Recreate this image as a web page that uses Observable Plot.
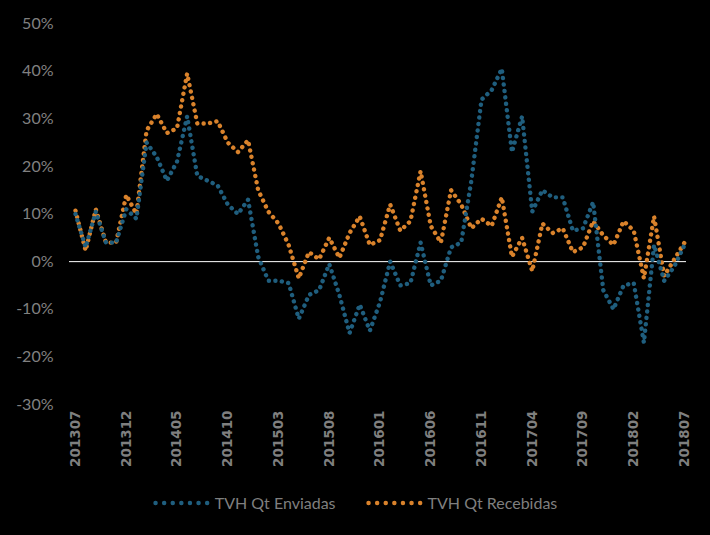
<!DOCTYPE html>
<html>
<head>
<meta charset="utf-8">
<script src="https://cdn.jsdelivr.net/npm/d3@7"></script>
<script src="https://cdn.jsdelivr.net/npm/@observablehq/plot@0.6"></script>
<style>
  html, body { margin: 0; padding: 0; background: #000; }
  #chart { width: 710px; height: 535px; background: #000; position: relative; overflow: hidden; }
  .legend { position: absolute; top: 493px; left: 0; width: 710px; display: flex; justify-content: center; align-items: center; font-family: Lato, "Open Sans", sans-serif; font-size: 16px; color: #7f7f7f; }
  .item { display: flex; align-items: center; margin: 0 15px; }
  .item svg { margin-right: 5px; }
</style>
</head>
<body>
<div id="chart"></div>
<script>
const months = ["201307","201308","201309","201310","201311","201312","201401","201402","201403","201404","201405","201406","201407","201408","201409","201410","201411","201412","201501","201502","201503","201504","201505","201506","201507","201508","201509","201510","201511","201512","201601","201602","201603","201604","201605","201606","201607","201608","201609","201610","201611","201612","201701","201702","201703","201704","201705","201706","201707","201708","201709","201710","201711","201712","201801","201802","201803","201804","201805","201806","201807"];
const enviadas = [10,3,10.5,4,4,11,9,25,22,17,21,30.5,18,17,16,12,10,13,1,-4,-4,-4.5,-12,-7,-6,-0.5,-7,-15,-9,-14.5,-8.5,0,-5,-4.5,4,-5,-4,3,4,17,34,36,40.5,23,30.5,10.5,15,13.5,13.5,6.5,7,12.5,-6,-10,-5,-4.5,-17,3.5,-4,-1,3.5];
const recebidas = [10.7,2.3,11,4,4,14,10,27.5,31,27,28,39.5,29,29,29.5,25,23,25.5,15,10.5,8,3.5,-3.5,2,0.5,5,0.8,6,9.5,3.5,4.5,12,6.5,8.5,19,7.5,4,15,12,7,9,7.5,13.5,1,5,-2,8,6,7,2,3,8.5,5.5,3.5,8.5,6.5,-3.5,9.5,-3,0.5,4];
const seriesNames = ["TVH Qt Enviadas", "TVH Qt Recebidas"];
const seriesColors = ["#1f5e7e", "#d9822b"];
const yTicks = [-30,-20,-10,0,10,20,30,40,50];
const xTickIdx = [0,5,10,15,20,25,30,35,40,45,50,55,60];

const rows = [];
months.forEach((m, i) => {
  rows.push({i, m, v: enviadas[i], s: seriesNames[0]});
});
months.forEach((m, i) => {
  rows.push({i, m, v: recebidas[i], s: seriesNames[1]});
});

const lineOpts = {x: "i", y: "v", stroke: "s", strokeWidth: 4.4, strokeLinecap: "round", strokeDasharray: "0.1 6.4"};

const plot = Plot.plot({
  width: 710,
  height: 480,
  marginTop: 23,
  marginBottom: 76,
  marginLeft: 75,
  marginRight: 26,
  style: {background: "#000", color: "#808080", overflow: "visible"},
  x: {type: "linear", domain: [0, 60]},
  y: {domain: [-30, 50]},
  color: {domain: seriesNames, range: seriesColors},
  marks: [
    Plot.axisY({ticks: yTicks, tickSize: 0, tickPadding: 22, tickFormat: d => d + "%", label: null,
      fontFamily: "Lato, sans-serif", fontSize: 16, fill: "#808080"}),
    Plot.axisX({ticks: xTickIdx, tickSize: 0, tickPadding: 6, tickRotate: -90, tickFormat: i => months[i], label: null,
      fontFamily: "DejaVu Sans, sans-serif", fontSize: 13.5, fontWeight: "bold", fill: "#7f7f7f"}),
    Plot.ruleY([0], {stroke: "#ffffff", strokeWidth: 1, insetLeft: -6, insetRight: -2}),
    Plot.line(rows.filter(d => d.s === seriesNames[1]), lineOpts),
    Plot.line(rows.filter(d => d.s === seriesNames[0]), lineOpts)
  ]
});
document.getElementById("chart").appendChild(plot);

const legend = document.createElement("div");
legend.className = "legend";
seriesNames.forEach((name, k) => {
  const item = document.createElement("div");
  item.className = "item";
  item.innerHTML = `<svg width="57" height="6"><line x1="2.5" y1="3" x2="57" y2="3" stroke="${seriesColors[k]}" stroke-width="4.4" stroke-linecap="round" stroke-dasharray="0.1 8.5"/></svg><span>${name}</span>`;
  legend.appendChild(item);
});
document.getElementById("chart").appendChild(legend);
</script>
</body>
</html>
